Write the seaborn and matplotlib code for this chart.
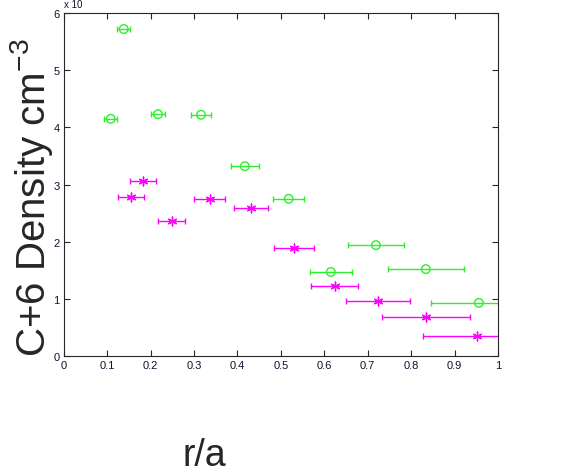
import numpy as np
import pandas as pd
import matplotlib
matplotlib.use("Agg")
import matplotlib.pyplot as plt
import seaborn as sns

# green circles
green_r = [0.138, 0.108, 0.217, 0.316, 0.417, 0.518, 0.615, 0.719, 0.834, 0.956]
green_n = [5.72, 4.15, 4.23, 4.22, 3.32, 2.75, 1.47, 1.94, 1.52, 0.93]
green_err = [0.015, 0.015, 0.016, 0.022, 0.032, 0.036, 0.048, 0.064, 0.088, 0.11]

# magenta stars
mag_r = [0.182, 0.154, 0.249, 0.336, 0.431, 0.530, 0.624, 0.724, 0.834, 0.952]
mag_n = [3.06, 2.78, 2.36, 2.74, 2.59, 1.89, 1.23, 0.96, 0.68, 0.35]
mag_err = [0.030, 0.030, 0.031, 0.035, 0.039, 0.046, 0.054, 0.073, 0.101, 0.125]

xticks = np.arange(0, 1.01, 0.1)
xticklabels = ["0", "0.1", "0.2", "0.3", "0.4", "0.5", "0.6", "0.7", "0.8", "0.9", "1"]
yticks = [0, 1, 2, 3, 4, 5, 6]

sns.set_style("ticks")
plt.rcParams['font.family'] = ['Liberation Sans', 'DejaVu Sans']
plt.rcParams['mathtext.fontset'] = 'custom'
plt.rcParams['mathtext.rm'] = 'Liberation Sans'
plt.rcParams['mathtext.it'] = 'Liberation Sans'
plt.rcParams['mathtext.default'] = 'regular'

green_df = pd.DataFrame({"r": green_r, "n": green_n})
mag_df = pd.DataFrame({"r": mag_r, "n": mag_n})

fig = plt.figure(figsize=(5.75, 4.77), dpi=100)
ax = fig.add_axes([0.111, 0.2516, 0.755, 0.719])

green = "#2bf02b"
magenta = "#ff00ff"

ax.errorbar(green_r, green_n, xerr=green_err, fmt="none", ecolor=green,
            elinewidth=1, capsize=2.5, capthick=1)
ax.errorbar(mag_r, mag_n, xerr=mag_err, fmt="none", ecolor=magenta,
            elinewidth=1, capsize=2.5, capthick=1)
sns.scatterplot(data=green_df, x="r", y="n", ax=ax, marker="o", s=38,
                facecolor="none", edgecolor=green, linewidth=1, zorder=3)
sns.scatterplot(data=mag_df, x="r", y="n", ax=ax, marker=(6, 2, 0), s=40,
                color=magenta, edgecolor=magenta, linewidth=1, zorder=3)

ax.set_xlim(0, 1)
ax.set_ylim(0, 6)
ax.set_xticks(xticks)
ax.set_xticklabels(xticklabels)
ax.set_yticks(yticks)
ax.tick_params(direction="in", top=True, right=True, labelsize=8, length=4,
               pad=3, labelcolor="#101030")
for s in ax.spines.values():
    s.set_visible(True)
    s.set_linewidth(0.8)

ax.set_xlabel("")
ax.set_ylabel("")
fig.text(0.054, 0.585, "C+6 Density cm$^{-3}$", rotation=90, fontsize=29,
         ha="center", va="center")
fig.text(0.355, 0.045, "r/a", fontsize=27, ha="center", va="center")
fig.text(0.111, 1.0, "x 10", fontsize=7, ha="left", va="top",
         color="#101030")

fig.savefig("out.png", dpi=100)
